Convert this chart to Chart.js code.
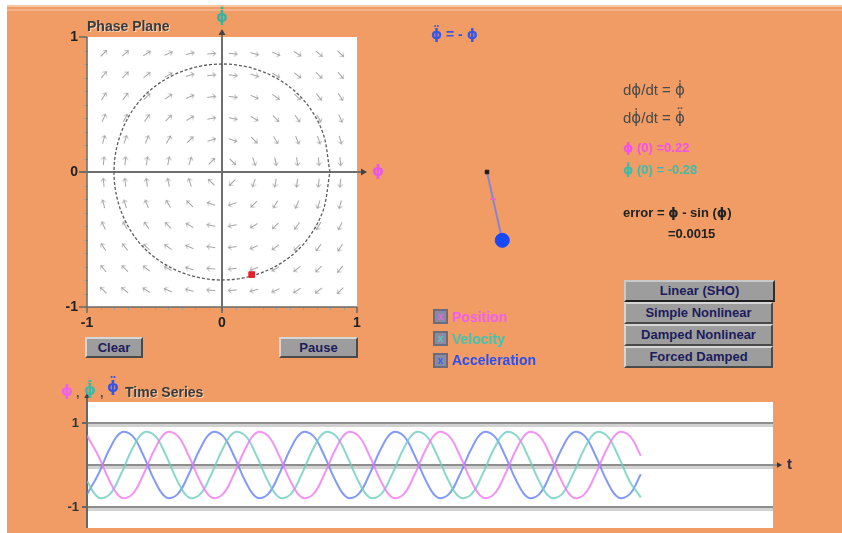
<!DOCTYPE html>
<html>
<head>
<meta charset="utf-8">
<title>Phase Plane</title>
<script src="https://cdn.jsdelivr.net/npm/chart.js@4.4.1/dist/chart.umd.min.js"></script>
<style>
  body { margin: 0; width: 842px; height: 533px; background: #fff; position: relative; overflow: hidden;
         font-family: "Liberation Sans", Arial, sans-serif; }
  #panel { position: absolute; left: 7px; top: 5px; width: 835px; height: 528px; background: #F09C64;
           border-top: 2px solid #F7C6A2; box-sizing: border-box; }
  #panel:after { content: ""; position: absolute; left: 0; right: 0; top: 2px; height: 2px; background: #F4B48A; }
  canvas { position: absolute; left: 0; top: 0; }
  .t { position: absolute; white-space: nowrap; font-weight: bold; font-size: 13px; line-height: 16px; }
  .g { font-family: "DejaVu Sans", sans-serif; }
  .emb { color: #3a3a3a; text-shadow: 1px 1px 0 rgba(255,255,255,0.55); }
  .eq { font-weight: normal; font-size: 15px; color: #4a4a4a; }
  .btn { position: absolute; background: #9d9d9d; color: #1c1c5c; font-weight: bold; font-size: 13px;
         text-align: center; border: 2px solid; border-color: #d6d6d6 #4a4a4a #4a4a4a #d6d6d6; box-sizing: border-box; }
  .cb { position: absolute; width: 15px; height: 15px; background: #8a8aa0; border: 2px solid #6c6c7e;
        box-sizing: border-box; font-size: 10px; line-height: 11px; text-align: center; font-weight: bold; }
</style>
</head>
<body>
<div id="panel"></div>
<canvas id="phase" width="842" height="533"></canvas>
<canvas id="pendulum" width="842" height="533"></canvas>
<canvas id="series" width="842" height="533"></canvas>

<div class="t emb" style="left:87px;top:18px;font-size:14px">Phase Plane</div>
<div class="t g" style="left:216px;top:9px;font-size:15px;color:#3fb0a0">ϕ̇</div>
<div class="t g" style="left:372px;top:163px;font-size:15px;color:#e858e8">ϕ</div>

<div class="t" style="left:431px;top:26px;font-size:14px;color:#3556e6"><span class="g">ϕ̈</span> = - <span class="g">ϕ</span></div>

<div class="t eq" style="left:623px;top:82px">d<span class="g">ϕ</span>/dt = <span class="g">ϕ̇</span></div>
<div class="t eq" style="left:623px;top:110px">d<span class="g">ϕ̇</span>/dt = <span class="g">ϕ̈</span></div>
<div class="t" style="left:623px;top:140px;color:#f052ee"><span class="g">ϕ</span> (0) =0.22</div>
<div class="t" style="left:623px;top:162px;color:#3cbcaa"><span class="g">ϕ̇</span> (0) = -0.28</div>
<div class="t" style="left:623px;top:205px;color:#222">error = <span class="g">ϕ</span> - sin (<span class="g">ϕ</span>)</div>
<div class="t" style="left:668px;top:226px;color:#222">=0.0015</div>

<div class="cb" style="left:433px;top:309px;color:#f060f0">x</div>
<div class="t" style="left:452px;top:309px;font-size:14px;color:#f060f0">Position</div>
<div class="cb" style="left:433px;top:331px;color:#50d0c0">x</div>
<div class="t" style="left:452px;top:331px;font-size:14px;color:#40c4b0">Velocity</div>
<div class="cb" style="left:433px;top:353px;color:#3060ff">x</div>
<div class="t" style="left:452px;top:352px;font-size:14px;color:#2a50f0">Acceleration</div>

<div class="btn" style="left:624px;top:280px;width:151px;height:22px;line-height:18px;border-color:#c8c8c8 #303030 #202020 #c8c8c8">Linear (SHO)</div>
<div class="btn" style="left:624px;top:302px;width:149px;height:22px;line-height:18px">Simple Nonlinear</div>
<div class="btn" style="left:624px;top:324px;width:149px;height:22px;line-height:18px">Damped Nonlinear</div>
<div class="btn" style="left:624px;top:346px;width:149px;height:22px;line-height:18px">Forced Damped</div>
<div class="btn" style="left:85px;top:337px;width:58px;height:21px;line-height:17px">Clear</div>
<div class="btn" style="left:279px;top:337px;width:79px;height:21px;line-height:17px">Pause</div>

<div class="t g" style="left:61px;top:383px;font-size:15px;color:#ee60ee">ϕ</div>
<div class="t" style="left:76px;top:385px;color:#555">,</div>
<div class="t g" style="left:84px;top:382px;font-size:15px;color:#3fb8a6">ϕ̇</div>
<div class="t" style="left:100px;top:385px;color:#555">,</div>
<div class="t g" style="left:107px;top:379px;font-size:15px;color:#3556e6">ϕ̈</div>
<div class="t emb" style="left:125px;top:384px;font-size:14px">Time Series</div>
<div class="t" style="left:787px;top:456px;font-size:15px;color:#2a2a50">t</div>

<script>
// arrow positions of the direction field (same values for phi and phi-dot)
const fieldGrid = [-0.88, -0.72, -0.56, -0.40, -0.24, -0.08, 0.08, 0.24, 0.40, 0.56, 0.72, 0.88];

// dashed orbit traced in the phase plane
const orbitPhi    = [0.80, 0.74, 0.57, 0.31, 0.00, -0.31, -0.57, -0.74, -0.80, -0.74, -0.57, -0.31, 0.00, 0.31, 0.57, 0.74, 0.80];
const orbitPhiDot = [0.00, 0.31, 0.57, 0.74, 0.80, 0.74, 0.57, 0.31, 0.00, -0.31, -0.57, -0.74, -0.80, -0.74, -0.57, -0.31, 0.00];

// current state (red marker)
const statePhi    = [0.22];
const statePhiDot = [-0.76];

const phaseTicks = [-1, 0, 1];

// pendulum
const pendulumAngle = 0.22;
const rodLength = 1;

// time series, one sample every eighth of a period
const tSteps = [0, 1, 2, 3, 4, 5, 6, 7, 8, 9, 10, 11, 12, 13, 14, 15, 16, 17, 18, 19, 20, 21, 22, 23, 24,
                25, 26, 27, 28, 29, 30, 31, 32, 33, 34, 35, 36, 37, 38, 39, 40, 41, 42, 43, 44, 45, 46, 47, 48, 49];
const posSeries = [0.70, 0.22, -0.38, -0.77, -0.70, -0.22, 0.38, 0.77,
                   0.70, 0.22, -0.38, -0.77, -0.70, -0.22, 0.38, 0.77,
                   0.70, 0.22, -0.38, -0.77, -0.70, -0.22, 0.38, 0.77,
                   0.70, 0.22, -0.38, -0.77, -0.70, -0.22, 0.38, 0.77,
                   0.70, 0.22, -0.38, -0.77, -0.70, -0.22, 0.38, 0.77,
                   0.70, 0.22, -0.38, -0.77, -0.70, -0.22, 0.38, 0.77,
                   0.70, 0.22];
const velSeries = [-0.38, -0.77, -0.70, -0.22, 0.38, 0.77, 0.70, 0.22,
                   -0.38, -0.77, -0.70, -0.22, 0.38, 0.77, 0.70, 0.22,
                   -0.38, -0.77, -0.70, -0.22, 0.38, 0.77, 0.70, 0.22,
                   -0.38, -0.77, -0.70, -0.22, 0.38, 0.77, 0.70, 0.22,
                   -0.38, -0.77, -0.70, -0.22, 0.38, 0.77, 0.70, 0.22,
                   -0.38, -0.77, -0.70, -0.22, 0.38, 0.77, 0.70, 0.22,
                   -0.38, -0.77];
const accSeries = [-0.70, -0.22, 0.38, 0.77, 0.70, 0.22, -0.38, -0.77,
                   -0.70, -0.22, 0.38, 0.77, 0.70, 0.22, -0.38, -0.77,
                   -0.70, -0.22, 0.38, 0.77, 0.70, 0.22, -0.38, -0.77,
                   -0.70, -0.22, 0.38, 0.77, 0.70, 0.22, -0.38, -0.77,
                   -0.70, -0.22, 0.38, 0.77, 0.70, 0.22, -0.38, -0.77,
                   -0.70, -0.22, 0.38, 0.77, 0.70, 0.22, -0.38, -0.77,
                   -0.70, -0.22];
const timeTicks = [-1, 1];

const base = {
  responsive: false,
  animation: false,
  events: [],
  plugins: { legend: { display: false }, tooltip: { enabled: false } }
};

function arrowHead(ctx, x, y, dir, size) {
  // dir: 'up' or 'right'
  ctx.beginPath();
  if (dir === 'up') {
    ctx.moveTo(x, y - size); ctx.lineTo(x - size * 0.7, y + 1); ctx.lineTo(x + size * 0.7, y + 1);
  } else {
    ctx.moveTo(x + size, y); ctx.lineTo(x - 1, y - size * 0.7); ctx.lineTo(x - 1, y + size * 0.7);
  }
  ctx.closePath();
  ctx.fill();
}

// small arrow glyph for the direction field
const arrow = document.createElement('canvas');
arrow.width = 12; arrow.height = 12;
(function () {
  const g = arrow.getContext('2d');
  g.strokeStyle = '#a4a4a4';
  g.lineWidth = 1;
  g.beginPath();
  g.moveTo(2, 6.5); g.lineTo(10.5, 6.5);
  g.moveTo(10.5, 6.5); g.lineTo(7.5, 4);
  g.moveTo(10.5, 6.5); g.lineTo(7.5, 9);
  g.stroke();
})();

// phase plane
const phaseFrame = {
  id: 'phaseFrame',
  beforeDatasetsDraw(chart) {
    const { ctx, chartArea: a, scales: { x, y } } = chart;
    ctx.save();
    ctx.fillStyle = '#fff';
    ctx.fillRect(a.left, a.top, a.right - a.left, a.bottom - a.top);

    // minor ticks on left and bottom edge
    ctx.strokeStyle = '#a0a0a0';
    ctx.lineWidth = 1;
    ctx.beginPath();
    for (let i = -10; i <= 10; i++) {
      const py = Math.round(y.getPixelForValue(i / 10)) + 0.5;
      ctx.moveTo(a.left - 3, py); ctx.lineTo(a.left + 1, py);
      const px = Math.round(x.getPixelForValue(i / 10)) + 0.5;
      ctx.moveTo(px, a.bottom); ctx.lineTo(px, a.bottom + 3);
    }
    ctx.stroke();

    ctx.strokeStyle = '#6a6a6a';
    ctx.lineWidth = 1.5;
    ctx.beginPath();
    ctx.moveTo(a.left, a.top); ctx.lineTo(a.left, a.bottom); ctx.lineTo(a.right, a.bottom);
    phaseTicks.forEach(v => {
      const py = y.getPixelForValue(v);
      ctx.moveTo(a.left - 8, py); ctx.lineTo(a.left, py);
      const px = x.getPixelForValue(v);
      ctx.moveTo(px, a.bottom); ctx.lineTo(px, a.bottom + 6);
    });
    ctx.stroke();

    // axes through the origin
    const x0 = x.getPixelForValue(0), y0 = y.getPixelForValue(0);
    ctx.strokeStyle = '#6e6e6e';
    ctx.lineWidth = 2;
    ctx.beginPath();
    ctx.moveTo(a.left - 8, y0); ctx.lineTo(a.right + 6, y0);
    ctx.moveTo(x0, a.bottom + 4); ctx.lineTo(x0, a.top - 4);
    ctx.stroke();
    ctx.fillStyle = '#444';
    arrowHead(ctx, a.right + 5, y0, 'right', 5);
    arrowHead(ctx, x0, a.top - 3, 'up', 5);

    ctx.fillStyle = '#222';
    ctx.font = 'bold 14px "Liberation Sans", Arial, sans-serif';
    phaseTicks.forEach(v => {
      ctx.textAlign = 'right'; ctx.textBaseline = 'middle';
      ctx.fillText(String(v), a.left - 9, y.getPixelForValue(v));
      ctx.textAlign = 'center'; ctx.textBaseline = 'top';
      ctx.fillText(String(v), x.getPixelForValue(v), a.bottom + 9);
    });
    ctx.restore();
  }
};

const fieldPoints = [];
fieldGrid.forEach(py => fieldGrid.forEach(px => fieldPoints.push({ x: px, y: py })));

new Chart(document.getElementById('phase'), {
  type: 'scatter',
  data: {
    datasets: [
      {
        label: 'state',
        data: statePhi.map((v, i) => ({ x: v, y: statePhiDot[i] })),
        pointStyle: 'rect', pointRadius: 4,
        backgroundColor: '#e8202a', borderColor: '#e8202a'
      },
      {
        label: 'orbit',
        type: 'line',
        data: orbitPhi.map((v, i) => ({ x: v, y: orbitPhiDot[i] })),
        borderColor: '#5a5a5a', borderWidth: 1.3, borderDash: [3, 2],
        pointRadius: 0, tension: 0.34, fill: false
      },
      {
        label: 'field',
        data: fieldPoints,
        pointStyle: arrow,
        // flow direction (dphi/dt, dphidot/dt) = (phidot, -phi)
        rotation: c => Math.atan2(c.raw.x, c.raw.y) * 180 / Math.PI,
        pointRadius: 6
      }
    ]
  },
  options: Object.assign({}, base, {
    layout: { padding: { left: 87, top: 37, right: 485, bottom: 226 } },
    scales: {
      x: { type: 'linear', min: -1, max: 1, display: false },
      y: { type: 'linear', min: -1, max: 1, display: false }
    }
  }),
  plugins: [phaseFrame]
});

// pendulum
const bob = { x: rodLength * Math.sin(pendulumAngle), y: -rodLength * Math.cos(pendulumAngle) };
new Chart(document.getElementById('pendulum'), {
  type: 'scatter',
  data: {
    datasets: [
      { data: [{ x: 0, y: 0 }], pointStyle: 'rect', pointRadius: 2.5, backgroundColor: '#1a1a1a', borderColor: '#1a1a1a' },
      { data: [bob], pointRadius: 7, backgroundColor: '#1848f8', borderColor: '#1848f8' },
      { data: [{ x: bob.x * 0.4, y: bob.y * 0.4 }], pointStyle: 'line', pointRadius: 3, borderColor: '#f060d0', borderWidth: 1.5 },
      { type: 'line', data: [{ x: 0, y: 0 }, bob], borderColor: '#8a84d0', borderWidth: 2, pointRadius: 0 }
    ]
  },
  options: Object.assign({}, base, {
    layout: { padding: { left: 417, top: 102, right: 285, bottom: 291 } },
    clip: false,
    scales: {
      x: { type: 'linear', min: -1, max: 1, display: false },
      y: { type: 'linear', min: -1, max: 1, display: false }
    }
  })
});

// time series
const seriesFrame = {
  id: 'seriesFrame',
  beforeDatasetsDraw(chart) {
    const { ctx, chartArea: a, scales: { y } } = chart;
    ctx.save();
    ctx.fillStyle = '#fff';
    ctx.fillRect(a.left, a.top, a.right - a.left, a.bottom - a.top);
    [1, 0, -1].forEach(v => {
      const py = Math.round(y.getPixelForValue(v));
      ctx.fillStyle = '#d2d2d2';
      ctx.fillRect(a.left, py + 1, a.right - a.left, 3);
      ctx.fillStyle = '#8e8e8e';
      ctx.fillRect(a.left, py - 1, v === 0 ? a.right - a.left + 6 : a.right - a.left, 2);
    });
    ctx.fillStyle = '#333';
    arrowHead(ctx, a.right + 5, y.getPixelForValue(0), 'right', 4);

    ctx.strokeStyle = '#666';
    ctx.lineWidth = 2;
    ctx.beginPath();
    ctx.moveTo(a.left, a.bottom); ctx.lineTo(a.left, a.top - 6);
    timeTicks.forEach(v => {
      const py = y.getPixelForValue(v);
      ctx.moveTo(a.left - 5, py); ctx.lineTo(a.left, py);
    });
    ctx.stroke();
    ctx.fillStyle = '#444';
    arrowHead(ctx, a.left, a.top - 5, 'up', 4);

    ctx.fillStyle = '#333';
    ctx.font = 'bold 13px "Liberation Sans", Arial, sans-serif';
    ctx.textAlign = 'right'; ctx.textBaseline = 'middle';
    timeTicks.forEach(v => ctx.fillText(String(v), a.left - 8, y.getPixelForValue(v)));
    ctx.restore();
  }
};

function track(values) {
  return values.map((v, i) => ({ x: tSteps[i], y: v }));
}

new Chart(document.getElementById('series'), {
  type: 'line',
  data: {
    datasets: [
      { label: 'Position', data: track(posSeries), borderColor: 'rgba(240,120,240,0.8)' },
      { label: 'Velocity', data: track(velSeries), borderColor: 'rgba(110,205,190,0.8)' },
      { label: 'Acceleration', data: track(accSeries), borderColor: 'rgba(100,130,245,0.8)' }
    ]
  },
  options: Object.assign({}, base, {
    layout: { padding: { left: 87, top: 402, right: 69, bottom: 5 } },
    elements: {
      line: { borderWidth: 2, tension: 0.4 },
      point: { radius: 0 }
    },
    scales: {
      x: { type: 'linear', min: 0, max: 60.7, display: false },
      y: { type: 'linear', min: -1.5, max: 1.5, display: false }
    }
  }),
  plugins: [seriesFrame]
});
</script>
</body>
</html>
